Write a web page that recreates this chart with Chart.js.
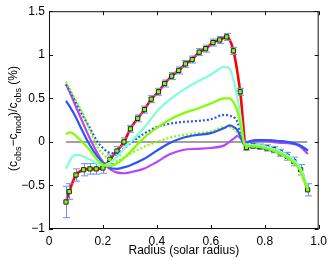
<!DOCTYPE html>
<html>
<head>
<meta charset="utf-8">
<script src="https://cdn.jsdelivr.net/npm/chart.js@4"></script>
<style>body{margin:0;background:#fff}</style>
</head>
<body>
<canvas id="chart" width="332" height="259"></canvas>
<script>
// model curves, all on the same radius grid
const radius = [0.063, 0.08, 0.1, 0.12, 0.15, 0.18, 0.2, 0.22, 0.25, 0.28, 0.3, 0.35, 0.4, 0.45, 0.5, 0.55, 0.6, 0.65, 0.67, 0.69, 0.7, 0.71, 0.725, 0.74, 0.77, 0.8, 0.85, 0.9, 0.93, 0.96];
const cyanModel = [-0.31, -0.2, -0.15, -0.16, -0.2, -0.25, -0.27, -0.25, -0.18, -0.07, -0.01, 0.15, 0.35, 0.49, 0.6, 0.69, 0.77, 0.86, 0.84, 0.64, 0.48, 0.3, -0.02, -0.03, -0.035, -0.05, -0.1, -0.19, -0.29, -0.53];
const greenModel = [0.09, 0.11, 0.07, 0.01, -0.09, -0.21, -0.26, -0.28, -0.25, -0.18, -0.12, 0.04, 0.16, 0.26, 0.33, 0.38, 0.44, 0.5, 0.5, 0.42, 0.34, 0.2, -0.03, -0.05, -0.055, -0.07, -0.125, -0.22, -0.32, -0.56];
const blueModel = [0.47, 0.39, 0.28, 0.15, -0.03, -0.17, -0.24, -0.29, -0.31, -0.29, -0.27, -0.2, -0.1, -0.01, 0.05, 0.08, 0.1, 0.16, 0.19, 0.16, 0.13, 0.06, -0.03, 0, 0.02, 0.02, 0.01, -0.01, -0.04, -0.1];
const blueDotModel = [0.66, 0.57, 0.45, 0.33, 0.17, 0, -0.07, -0.12, -0.13, -0.07, -0.02, 0.09, 0.17, 0.21, 0.23, 0.24, 0.26, 0.31, 0.3, 0.27, 0.22, 0.1, -0.03, 0, 0.02, 0.02, 0.01, -0.01, -0.04, -0.1];
const greenDotModel = [0.69, 0.59, 0.47, 0.36, 0.14, -0.06, -0.14, -0.19, -0.22, -0.18, -0.14, -0.06, 0, 0.05, 0.08, 0.1, 0.12, 0.17, 0.17, 0.13, 0.1, 0.04, -0.03, -0.05, -0.055, -0.07, -0.125, -0.22, -0.32, -0.56];
const purpleModel = [0.66, 0.55, 0.4, 0.26, 0.05, -0.13, -0.23, -0.3, -0.35, -0.36, -0.35, -0.31, -0.23, -0.14, -0.09, -0.08, -0.07, -0.04, 0, 0.05, 0.07, 0.04, 0, 0, 0.01, 0.01, -0.01, -0.02, -0.05, -0.14];

// observed differences with error bars
const obsRadius = [0.063, 0.075, 0.1, 0.128, 0.152, 0.175, 0.2, 0.226, 0.252, 0.278, 0.302, 0.329, 0.354, 0.379, 0.406, 0.429, 0.455, 0.481, 0.506, 0.531, 0.557, 0.581, 0.608, 0.633, 0.659, 0.684, 0.709, 0.732, 0.757, 0.782, 0.808, 0.833, 0.858, 0.883, 0.908, 0.933, 0.959];
const obsValue = [-0.69, -0.57, -0.38, -0.32, -0.31, -0.31, -0.3, -0.2, -0.105, 0, 0.15, 0.27, 0.37, 0.49, 0.575, 0.67, 0.755, 0.82, 0.895, 0.945, 1.03, 1.07, 1.14, 1.17, 1.205, 1.045, 0.575, -0.065, -0.045, -0.055, -0.07, -0.09, -0.125, -0.165, -0.225, -0.32, -0.55];
const obsError = [0.18, 0.09, 0.07, 0.07, 0.06, 0.06, 0.06, 0.05, 0.05, 0.045, 0.04, 0.04, 0.04, 0.04, 0.04, 0.04, 0.04, 0.04, 0.04, 0.04, 0.04, 0.04, 0.04, 0.04, 0.04, 0.04, 0.04, 0.03, 0.03, 0.03, 0.035, 0.035, 0.04, 0.045, 0.05, 0.06, 0.07];

const zeroX = [0.063, 0.958];
const zeroY = [0, 0];

const FONT = 'Liberation Sans, Arial, Helvetica, sans-serif';

function pts(xs, ys) {
  return xs.map((x, i) => ({x: x, y: ys[i]}));
}

function curve(values, color, order, dashed) {
  return {
    data: pts(radius, values),
    borderColor: color,
    borderWidth: 2.2,
    borderDash: dashed ? [2, 2] : [],
    pointRadius: 0,
    cubicInterpolationMode: 'monotone',
    order: order,
  };
}

const SQUARES = 6;

const errorBars = {
  id: 'errorBars',
  beforeDatasetDraw(chart, args) {
    if (args.index !== SQUARES) return;
    const ctx = chart.ctx, xs = chart.scales.x, ys = chart.scales.y;
    ctx.save();
    ctx.strokeStyle = 'rgb(110,140,250)';
    ctx.lineWidth = 1;
    obsRadius.forEach((r, i) => {
      const px = Math.round(xs.getPixelForValue(r)) + 0.5;
      const y1 = ys.getPixelForValue(obsValue[i] + obsError[i]);
      const y2 = ys.getPixelForValue(obsValue[i] - obsError[i]);
      ctx.beginPath();
      ctx.moveTo(px, y1); ctx.lineTo(px, y2);
      ctx.moveTo(px - 3.5, y1); ctx.lineTo(px + 3.5, y1);
      ctx.moveTo(px - 3.5, y2); ctx.lineTo(px + 3.5, y2);
      ctx.stroke();
    });
    ctx.restore();
  }
};

// matlab style box, inward ticks and the y label with subscripts
const frame = {
  id: 'frame',
  afterDraw(chart) {
    const ctx = chart.ctx, a = chart.chartArea;
    const xs = chart.scales.x, ys = chart.scales.y;
    ctx.save();
    ctx.strokeStyle = '#111';
    ctx.lineWidth = 1;
    ctx.strokeRect(a.left + 0.5, a.top + 0.5, a.right - a.left - 1, a.bottom - a.top - 1);
    ctx.beginPath();
    xs.ticks.forEach(t => {
      const px = Math.round(xs.getPixelForValue(t.value)) + 0.5;
      ctx.moveTo(px, a.bottom); ctx.lineTo(px, a.bottom - 4);
      ctx.moveTo(px, a.top); ctx.lineTo(px, a.top + 4);
    });
    ys.ticks.forEach(t => {
      const py = Math.round(ys.getPixelForValue(t.value)) + 0.5;
      ctx.moveTo(a.left, py); ctx.lineTo(a.left + 4, py);
      ctx.moveTo(a.right, py); ctx.lineTo(a.right - 4, py);
    });
    ctx.stroke();

    const parts = [['(c', 0], ['obs', 1], ['\u2212c', 0], ['mod', 1], [')/c', 0], ['obs', 1], [' (%)', 0]];
    const font = s => s ? '9px ' + FONT : '12px ' + FONT;
    let total = 0;
    parts.forEach(p => { ctx.font = font(p[1]); total += ctx.measureText(p[0]).width; });
    ctx.translate(17, 118.5);
    ctx.rotate(-Math.PI / 2);
    ctx.fillStyle = '#000';
    ctx.textBaseline = 'alphabetic';
    let x = -total / 2;
    parts.forEach(p => {
      ctx.font = font(p[1]);
      ctx.fillText(p[0], x, p[1] ? 4 : 0);
      x += ctx.measureText(p[0]).width;
    });
    ctx.restore();
  }
};

new Chart(document.getElementById('chart'), {
  type: 'line',
  data: {
    datasets: [
      curve(greenModel, '#7fff00', 0, false),
      curve(cyanModel, '#7fffd4', 1, false),
      curve(blueModel, 'rgb(45,85,245)', 2, false),
      curve(greenDotModel, '#7fff00', 3, true),
      curve(blueDotModel, 'rgb(45,85,245)', 4, true),
      curve(purpleModel, 'rgb(185,70,250)', 5, false),
      {
        data: pts(obsRadius, obsValue),
        showLine: false,
        pointStyle: 'rect',
        pointRadius: 3,
        pointBackgroundColor: '#7fff00',
        pointBorderColor: '#222',
        pointBorderWidth: 1,
        order: 6,
      },
      {
        data: pts(obsRadius, obsValue),
        borderColor: '#ff0000',
        borderWidth: 2.6,
        pointRadius: 0,
        cubicInterpolationMode: 'monotone',
        order: 7,
      },
      {
        data: pts(zeroX, zeroY),
        borderColor: 'rgb(128,128,128)',
        borderWidth: 1.5,
        pointRadius: 0,
        order: 8,
      },
    ]
  },
  options: {
    responsive: false,
    animation: false,
    layout: {padding: {top: 9, right: 7, left: 0, bottom: 0}},
    plugins: {legend: {display: false}, tooltip: {enabled: false}},
    scales: {
      x: {
        type: 'linear',
        min: 0,
        max: 1,
        afterFit: s => { s.height = 30; },
        grid: {display: false, drawTicks: false},
        border: {display: false},
        ticks: {stepSize: 0.2, padding: 5, color: '#000', font: {family: FONT, size: 12}, maxRotation: 0},
        title: {display: true, text: 'Radius (solar radius)', color: '#000', font: {family: FONT, size: 12}, padding: {top: 0, bottom: 1}},
      },
      y: {
        type: 'linear',
        min: -1,
        max: 1.5,
        afterFit: s => { s.width = 49; },
        grid: {display: false, drawTicks: false},
        border: {display: false},
        ticks: {
          stepSize: 0.5,
          padding: 4,
          color: '#000',
          font: {family: FONT, size: 12},
          callback: v => String(v).replace('-', '\u2212'),
        },
      }
    }
  },
  plugins: [errorBars, frame]
});
</script>
</body>
</html>
